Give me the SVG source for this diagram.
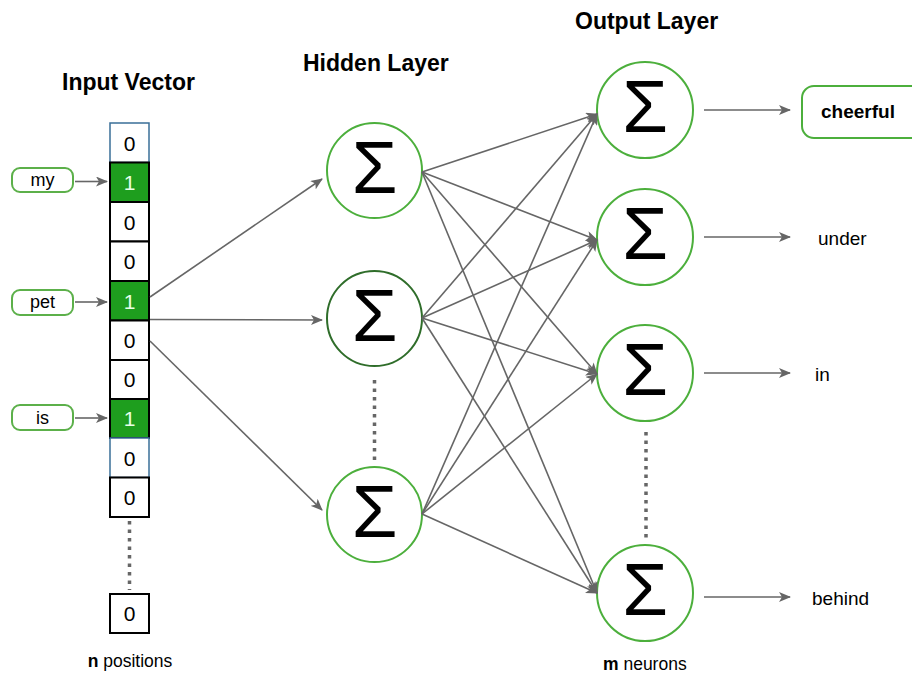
<svg xmlns="http://www.w3.org/2000/svg" width="912" height="675" viewBox="0 0 912 675">
<defs>
<marker id="ah" markerWidth="12" markerHeight="10" refX="11" refY="5" orient="auto" markerUnits="userSpaceOnUse">
<path d="M0,0 L12,5 L0,10 L3,5 Z" fill="#666"/>
</marker>
<style>
.t{font-family:"Liberation Sans",Arial,sans-serif;fill:#000}
.title{font-size:23px;font-weight:bold}
.cell{fill:#fff;stroke:#000;stroke-width:2}
.cellb{fill:#fff;stroke:#3a6f98;stroke-width:1.5}
.on{fill:#1e9e1e;stroke:#000;stroke-width:2}
.d{font-size:21px;text-anchor:middle}
.w{fill:#e8ffe8}
.lbl{fill:#fff;stroke:#5cb04a;stroke-width:2}
.conn{stroke:#666;stroke-width:1.6;fill:none;marker-end:url(#ah)}
.dots{stroke:#666;stroke-width:3.5;stroke-dasharray:3.5 5;fill:none}
.node{fill:#fff;stroke:#4caf3c;stroke-width:2}
.dark{stroke:#2f6d2a}
.sig{font-size:74px;text-anchor:middle}
.o{font-size:19px}
.l{font-size:18px;text-anchor:middle}
.f{font-size:17.5px}
</style>
</defs>
<rect width="912" height="675" fill="#fff"/>
<text class="t title" x="62" y="90">Input Vector</text>
<text class="t title" x="303" y="71">Hidden Layer</text>
<text class="t title" x="575" y="29">Output Layer</text>

<g id="input-vector">
<rect class="cellb" x="110" y="123" width="39" height="39.5"/>
<text class="t d" x="129.5" y="151">0</text>
<rect class="on" x="110" y="162.5" width="39" height="39.5"/>
<text class="t d w" x="129.5" y="190">1</text>
<rect class="cell" x="110" y="202" width="39" height="39.5"/>
<text class="t d" x="129.5" y="230">0</text>
<rect class="cell" x="110" y="241.5" width="39" height="39.5"/>
<text class="t d" x="129.5" y="269">0</text>
<rect class="on" x="110" y="281" width="39" height="39.5"/>
<text class="t d w" x="129.5" y="309">1</text>
<rect class="cell" x="110" y="320.5" width="39" height="39.5"/>
<text class="t d" x="129.5" y="348">0</text>
<rect class="cell" x="110" y="360" width="39" height="39"/>
<text class="t d" x="129.5" y="387">0</text>
<rect class="on" x="110" y="399" width="39" height="39"/>
<text class="t d w" x="129.5" y="426">1</text>
<rect class="cellb" x="110" y="438" width="39" height="39.5"/>
<text class="t d" x="129.5" y="466">0</text>
<rect class="cell" x="110" y="477.5" width="39" height="39.5"/>
<text class="t d" x="129.5" y="505">0</text>
<path class="dots" d="M129.5,521 V590"/>
<rect class="cell" x="110" y="594" width="39" height="39"/>
<text class="t d" x="129.5" y="621">0</text>
<text class="t f" x="130" y="667" text-anchor="middle"><tspan font-weight="bold">n</tspan> positions</text>
</g>

<g id="label-my">
<rect class="lbl" x="12" y="168" width="61" height="24" rx="8"/>
<text class="t l" x="42.5" y="186">my</text>
</g>
<g id="label-pet">
<rect class="lbl" x="12" y="290" width="61" height="25" rx="8"/>
<text class="t l" x="42.5" y="308">pet</text>
</g>
<g id="label-is">
<rect class="lbl" x="12" y="405" width="61" height="25" rx="8"/>
<text class="t l" x="42.5" y="424">is</text>
</g>

<g id="hidden-1">
<circle class="node" cx="374.5" cy="170.5" r="47.5"/>
<text class="t sig" x="374.5" y="193">Σ</text>
</g>
<g id="hidden-2">
<circle class="node dark" cx="374.5" cy="318.5" r="47.5"/>
<text class="t sig" x="374.5" y="341">Σ</text>
</g>
<path class="dots" d="M374.5,380 V464"/>
<g id="hidden-3">
<circle class="node" cx="374.5" cy="514.5" r="47.5"/>
<text class="t sig" x="374.5" y="537">Σ</text>
</g>

<g id="output-1">
<circle class="node" cx="645" cy="110" r="48"/>
<text class="t sig" x="645" y="132">Σ</text>
</g>
<g id="output-2">
<circle class="node" cx="645" cy="237" r="48"/>
<text class="t sig" x="645" y="259">Σ</text>
</g>
<g id="output-3">
<circle class="node" cx="645" cy="373" r="48"/>
<text class="t sig" x="645" y="395">Σ</text>
</g>
<path class="dots" d="M646,432 V541"/>
<g id="output-4">
<circle class="node" cx="645" cy="593" r="48"/>
<text class="t sig" x="645" y="615">Σ</text>
</g>

<g id="word-cheerful">
<rect x="802" y="86" width="122" height="52" rx="12" fill="#fff" stroke="#4caf3c" stroke-width="2"/>
<text class="t" x="858" y="118" font-size="19" font-weight="bold" text-anchor="middle">cheerful</text>
</g>
<g id="word-under"><text class="t o" x="818" y="245">under</text></g>
<g id="word-in"><text class="t o" x="815" y="381">in</text></g>
<g id="word-behind"><text class="t o" x="812" y="605">behind</text></g>
<text class="t f" x="603" y="670"><tspan font-weight="bold">m</tspan> neurons</text>

<g id="connectors">
<path class="conn" d="M75,181.5 H107"/>
<path class="conn" d="M75,302 H107"/>
<path class="conn" d="M75,418 H107"/>
<path class="conn" d="M150,297 L322,179"/>
<path class="conn" d="M150,319.5 L322,320"/>
<path class="conn" d="M150,341 L322,510"/>
<path class="conn" d="M422,172 L597,114"/>
<path class="conn" d="M422,172 L597,240"/>
<path class="conn" d="M422,172 L597,374"/>
<path class="conn" d="M422,172 L597,593"/>
<path class="conn" d="M422,318 L597,114"/>
<path class="conn" d="M422,318 L597,240"/>
<path class="conn" d="M422,318 L597,374"/>
<path class="conn" d="M422,318 L597,593"/>
<path class="conn" d="M422,514 L597,114"/>
<path class="conn" d="M422,514 L597,240"/>
<path class="conn" d="M422,514 L597,374"/>
<path class="conn" d="M422,514 L597,593"/>
<path class="conn" d="M704,110 H790"/>
<path class="conn" d="M704,237 H790"/>
<path class="conn" d="M704,373 H790"/>
<path class="conn" d="M704,597 H790"/>
</g>
</svg>
